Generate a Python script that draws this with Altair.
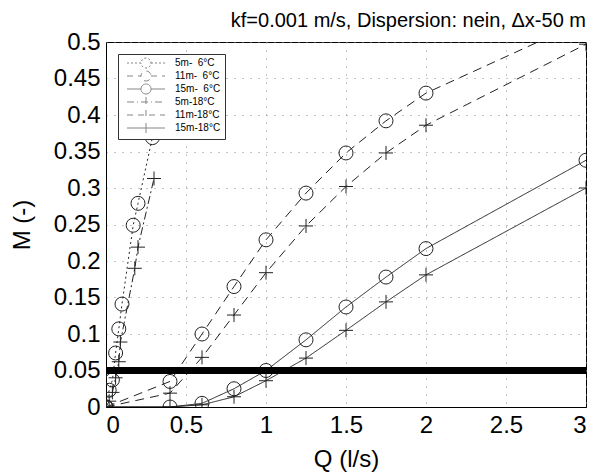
import altair as alt
import pandas as pd

# ---- data ----
series_names = ["\u20075m-\u20076°C", "11m-\u20076°C", "15m-\u20076°C",
                "\u20075m-18°C", "11m-18°C", "15m-18°C"]

q_5m_6 = [0, 0.02, 0.04, 0.06, 0.08, 0.1, 0.17, 0.2, 0.29]
m_5m_6 = [0, 0.023, 0.037, 0.074, 0.107, 0.141, 0.249, 0.279, 0.369]

q_11m_6 = [0, 0.4, 0.6, 0.8, 1.0, 1.25, 1.5, 1.75, 2.0, 3.0]
m_11m_6 = [0, 0.035, 0.100, 0.165, 0.229, 0.293, 0.348, 0.392, 0.430, 0.530]

q_15m_6 = [0, 0.4, 0.6, 0.8, 1.0, 1.25, 1.5, 1.75, 2.0, 3.0]
m_15m_6 = [0, 0, 0.005, 0.025, 0.050, 0.092, 0.137, 0.178, 0.217, 0.338]

q_5m_18 = [0, 0.02, 0.04, 0.06, 0.08, 0.09, 0.18, 0.2, 0.3]
m_5m_18 = [0, 0.008, 0.020, 0.040, 0.062, 0.089, 0.190, 0.219, 0.313]

q_11m_18 = [0, 0.4, 0.6, 0.8, 1.0, 1.25, 1.5, 1.75, 2.0, 3.0]
m_11m_18 = [0, 0.019, 0.068, 0.126, 0.184, 0.248, 0.302, 0.348, 0.386, 0.497]

q_15m_18 = [0, 0.4, 0.6, 0.8, 1.0, 1.25, 1.5, 1.75, 2.0, 3.0]
m_15m_18 = [0, 0, 0.003, 0.014, 0.036, 0.067, 0.105, 0.144, 0.181, 0.300]

threshold = [0.05]
y_ticks = [0, 0.05, 0.1, 0.15, 0.2, 0.25, 0.3, 0.35, 0.4, 0.45, 0.5]
x_ticks = [0, 0.5, 1, 1.5, 2, 2.5, 3]

title_text = "kf=0.001 m/s, Dispersion: nein, \u0394x-50 m"

# ---- build table ----
all_q = [q_5m_6, q_11m_6, q_15m_6, q_5m_18, q_11m_18, q_15m_18]
all_m = [m_5m_6, m_11m_6, m_15m_6, m_5m_18, m_11m_18, m_15m_18]
rows = []
for name, qs, ms in zip(series_names, all_q, all_m):
    for i, (q, m) in enumerate(zip(qs, ms)):
        rows.append({"series": name, "Q": q, "M": m, "order": i})
df = pd.DataFrame(rows)
df_thr = pd.DataFrame({"M": threshold})

FONT = "Liberation Sans"
PLUS = "M-1,0H1M0,-1V1"
LEG_CIRCLE = "M-4.75,0H-1.25A1.25,1.25 0 1,1 1.25,0A1.25,1.25 0 1,1 -1.25,0M1.25,0H4.75"
LEG_PLUS = "M-4.75,0H4.75M0,-1.25V1.25"

dashes = [[2, 3], [9, 6], [1, 0], [8, 3, 2, 3], [9, 6], [1, 0]]
leg_dashes = [[2, 2], [6, 5], [1, 0], [7, 3, 1, 3], [6, 5], [1, 0]]
shapes = ["circle", "circle", "circle", PLUS, PLUS, PLUS]
leg_shapes = [LEG_CIRCLE, LEG_CIRCLE, LEG_CIRCLE, LEG_PLUS, LEG_PLUS, LEG_PLUS]

x_axis = alt.Axis(title="Q (l/s)", values=x_ticks, format="~g",
                  titleY=52, titleBaseline="middle")
y_axis = alt.Axis(title="M (-)", values=y_ticks, format="~g", labelOverlap=False,
                  titleX=-84, titleBaseline="middle")
x_scale = alt.Scale(domain=[0, 3], nice=False)
y_scale = alt.Scale(domain=[0, 0.5], nice=False)


def X():
    return alt.X("Q:Q", scale=x_scale, axis=x_axis)


def Y():
    return alt.Y("M:Q", scale=y_scale, axis=y_axis)


legend = alt.Legend(
    title=None, orient="top-left", offset=12,
    fillColor="white", strokeColor="#333", padding=4,
    labelFont=FONT, labelFontSize=10, labelColor="black",
    symbolSize=64, symbolOffset=19, labelOffset=24,
    symbolStrokeWidth=1, symbolStrokeColor="#555", rowPadding=-1,
)

points = alt.Chart(df).mark_point(color="#222", filled=False, size=196,
                                  strokeWidth=1, clip=True, opacity=1).encode(
    x=X(), y=Y(),
    shape=alt.Shape("series:N", scale=alt.Scale(domain=series_names, range=shapes),
                    legend=None),
)

lines = alt.Chart(df).mark_line(color="#222", strokeWidth=1, clip=True).encode(
    x=X(), y=Y(),
    strokeDash=alt.StrokeDash("series:N", sort=series_names,
                              scale=alt.Scale(domain=series_names, range=dashes),
                              legend=None),
    order="order:Q",
)

thr = alt.Chart(df_thr).mark_rule(color="black", strokeWidth=7).encode(y=Y())

# legend-only layer (draws no marks; its scales carry the legend symbols)
legend_layer = alt.Chart(df).transform_filter("false").mark_point(
    color="#555", filled=False, size=64, strokeWidth=1).encode(
    x=X(), y=Y(),
    shape=alt.Shape("series:N", sort=series_names,
                    scale=alt.Scale(domain=series_names, range=leg_shapes),
                    legend=legend),
    strokeDash=alt.StrokeDash("series:N", sort=series_names,
                              scale=alt.Scale(domain=series_names, range=leg_dashes),
                              legend=legend),
)

chart = alt.layer(points, lines, thr, legend_layer).resolve_scale(
    shape="independent", strokeDash="independent"
).properties(
    width=480, height=365,
    autosize=alt.AutoSizeParams(type="none"),
    padding={"left": 98, "top": 34, "right": 4, "bottom": 68},
    background="white",
    title=alt.TitleParams(title_text, anchor="end", frame="group",
                          font=FONT, fontSize=20, fontWeight="normal",
                          color="black", baseline="alphabetic", offset=-17),
).configure_view(stroke="black", strokeWidth=1).configure_axis(
    labelFont=FONT, labelFontSize=24, labelColor="black",
    titleFont=FONT, titleFontSize=24, titleColor="black", titleFontWeight="normal",
    domainColor="black", tickSize=0, labelPadding=6,
    grid=True, gridColor="#888", gridDash=[1, 7], gridWidth=1,
)

chart.save("out.html", embed_options={"renderer": "svg", "actions": False})
